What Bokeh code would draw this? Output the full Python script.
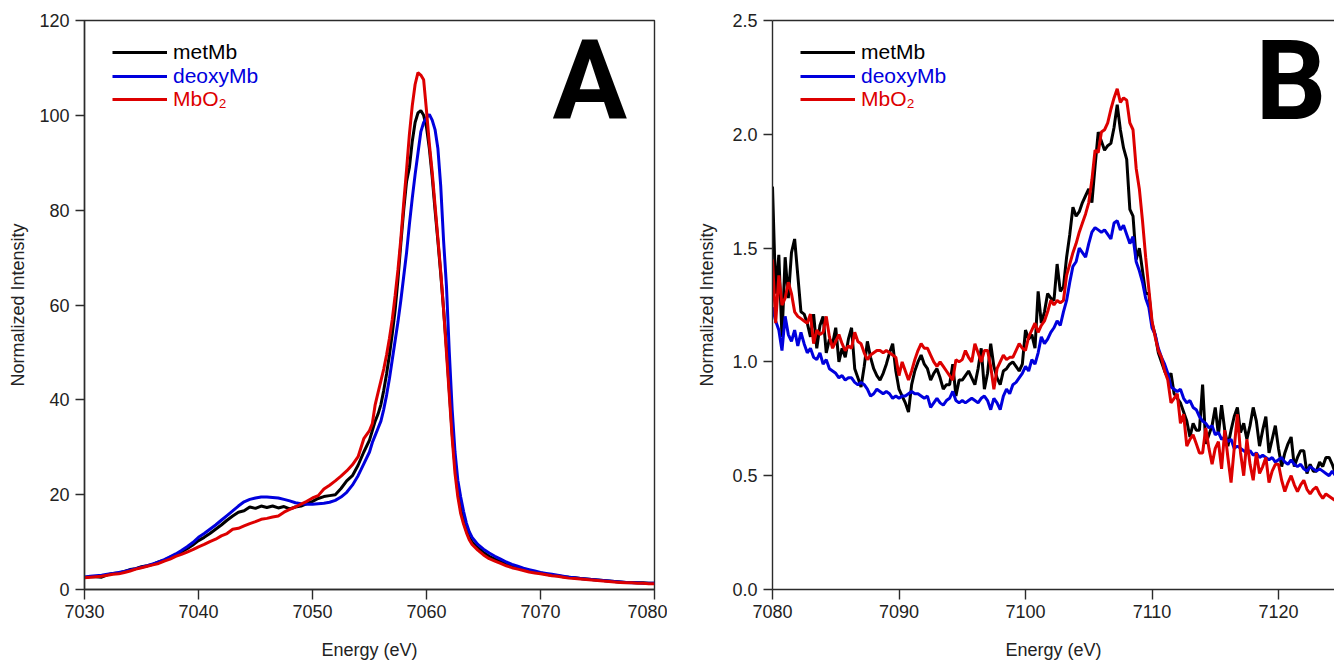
import numpy as np
from bokeh.plotting import figure
from bokeh.models import Range1d, FixedTicker, PrintfTickFormatter, Legend, LegendItem, Label, LinearAxis
from bokeh.layouts import row
from bokeh.embed import file_html
from bokeh.resources import INLINE

# ---------------- data: panel A (Fe K-beta mainline) ----------------
energy_a = np.concatenate([np.arange(7030, 7055, 0.5),
                           np.arange(7055, 7064.01, 0.25),
                           np.arange(7064.5, 7080.01, 0.5)])
metmb_a = [
    2.6, 2.7, 2.7, 2.6, 3.1, 3.4, 3.5, 3.8, 4.2, 4.4, 4.8, 5.0, 5.3, 5.8, 6.2, 6.8, 7.3, 7.9, 8.6, 9.4,
    10.3, 11.0, 11.8, 12.7, 13.6, 14.6, 15.5, 16.3, 16.6, 17.4, 17.1, 17.6, 17.3, 17.6, 17.2, 17.5, 17.0, 17.4, 17.6, 18.1,
    18.6, 19.2, 19.6, 19.8, 20.0, 21.3, 22.9, 24.0, 26.2, 29.0,
    31.5, 33.5, 35.5, 37.0, 39.0, 42.0, 45.5, 49.5, 54.0, 59.0, 65.5, 73.0, 80.0, 86.0, 89.0, 94.5, 98.5, 100.5,
    101.0, 100.0, 97.5, 93.0, 87.0, 80.0, 73.5, 66.5, 59.0, 51.0, 42.0, 33.0, 26.0, 20.5, 17.0, 14.5, 12.5, 11.0, 10.0,
    8.8, 7.8, 7.0, 6.4, 5.9, 5.4, 5.0, 4.6, 4.3, 4.0, 3.7, 3.5, 3.2, 3.0, 2.9, 2.7, 2.6, 2.5, 2.3, 2.2, 2.1, 2.0,
    1.9, 1.8, 1.7, 1.6, 1.5, 1.5, 1.4, 1.4, 1.3, 1.3]
deoxymb_a = [
    2.6, 2.8, 2.9, 3.0, 3.2, 3.4, 3.6, 3.8, 4.1, 4.4, 4.7, 5.0, 5.4, 5.8, 6.3, 6.9, 7.5, 8.2, 9.0, 9.9,
    11.0, 11.8, 12.7, 13.6, 14.6, 15.6, 16.6, 17.6, 18.5, 19.0, 19.3, 19.5, 19.5, 19.4, 19.3, 19.0, 18.7, 18.3, 18.1, 18.0,
    18.0, 18.1, 18.2, 18.4, 18.8, 19.5, 20.5, 22.0, 24.0, 26.5,
    29.0, 31.0, 32.5, 34.0, 35.5, 38.0, 41.0, 44.5, 48.5, 52.5, 56.5, 61.0, 66.0, 71.0, 77.0, 82.5, 87.5, 92.0,
    96.5, 98.5, 99.5, 100.2, 99.0, 97.0, 93.0, 85.0, 73.5, 64.0, 50.0, 38.0, 29.0, 23.0, 19.5, 16.5, 14.0, 12.2, 11.0,
    9.5, 8.5, 7.7, 7.0, 6.4, 5.8, 5.3, 4.9, 4.5, 4.2, 3.9, 3.6, 3.4, 3.2, 3.0, 2.8, 2.6, 2.5, 2.3, 2.2, 2.1, 2.0,
    1.9, 1.8, 1.7, 1.6, 1.5, 1.4, 1.4, 1.3, 1.3, 1.3]
mbo2_a = [
    2.5, 2.6, 2.7, 2.8, 3.0, 3.2, 3.3, 3.6, 3.9, 4.3, 4.6, 4.9, 5.2, 5.5, 6.0, 6.4, 7.0, 7.4, 7.9, 8.4,
    9.0, 9.5, 10.1, 10.6, 11.3, 11.8, 12.7, 12.9, 13.4, 13.9, 14.3, 14.8, 15.0, 15.3, 15.5, 16.3, 16.9, 17.4, 18.0, 18.6,
    19.3, 19.8, 21.2, 22.0, 22.9, 23.9, 25.0, 26.3, 28.0, 31.8,
    33.5, 35.0, 39.0, 41.5, 44.0, 46.5, 49.5, 53.0, 57.0, 62.0, 67.5, 74.0, 81.5, 88.5, 96.0, 102.0, 106.5, 109.0,
    108.5, 107.5, 101.0, 94.0, 88.0, 81.0, 74.0, 67.0, 59.0, 50.0, 41.0, 32.0, 24.5, 19.5, 16.0, 13.8, 12.0, 10.5, 9.5,
    8.3, 7.3, 6.5, 6.0, 5.5, 5.0, 4.6, 4.3, 4.0, 3.7, 3.5, 3.3, 3.1, 2.9, 2.8, 2.6, 2.4, 2.3, 2.2, 2.1, 2.0, 1.9,
    1.8, 1.7, 1.6, 1.5, 1.4, 1.4, 1.3, 1.3, 1.2, 1.2]

# ---------------- data: panel B (valence-to-core region) ----------------
energy_b = np.arange(7080, 7124.51, 0.25)
metmb_b = [
    1.77, 1.30, 1.47, 1.11, 1.46, 1.28, 1.48, 1.54, 1.38, 1.22, 1.21, 1.17, 1.11, 1.21, 1.06, 1.16,
    1.20, 1.04, 1.10, 1.08, 1.15, 1.00, 1.06, 1.02, 1.10, 1.15, 0.97, 0.93, 0.89, 0.98, 1.09, 1.02,
    0.97, 0.94, 0.92, 0.95, 0.99, 1.04, 1.08, 0.96, 0.88, 0.85, 0.82, 0.78, 0.90, 0.96, 1.00, 1.03,
    0.99, 0.97, 0.92, 0.95, 0.97, 0.93, 0.88, 0.90, 0.90, 0.99, 0.85, 0.92, 0.92, 0.94, 0.96, 0.93,
    0.90, 0.97, 1.06, 0.88, 0.95, 1.08, 0.98, 0.93, 0.90, 0.96, 0.97, 0.99, 1.00, 0.98, 0.96, 0.99,
    1.14, 1.10, 1.12, 1.06, 1.31, 1.17, 1.22, 1.30, 1.28, 1.27, 1.43, 1.31, 1.33, 1.46, 1.56, 1.68,
    1.64, 1.66, 1.70, 1.73, 1.76, 1.70, 1.86, 2.01, 1.97, 1.93, 1.95, 1.96, 2.03, 2.13, 2.02, 1.94,
    1.89, 1.67, 1.64, 1.45, 1.50, 1.40, 1.30, 1.30, 1.17, 1.12, 1.04, 1.00, 0.96, 0.93, 0.95, 0.86,
    0.84, 0.82, 0.78, 0.74, 0.67, 0.73, 0.70, 0.70, 0.90, 0.64, 0.68, 0.72, 0.80, 0.68, 0.81, 0.70,
    0.63, 0.70, 0.76, 0.80, 0.69, 0.73, 0.66, 0.72, 0.80, 0.74, 0.63, 0.70, 0.76, 0.60, 0.66, 0.72,
    0.62, 0.54, 0.60, 0.64, 0.67, 0.54, 0.58, 0.61, 0.61, 0.51, 0.55, 0.52, 0.52, 0.56, 0.54, 0.58,
    0.58, 0.55, 0.51]
deoxymb_b = [
    1.24, 1.18, 1.14, 1.05, 1.20, 1.12, 1.09, 1.14, 1.07, 1.13, 1.08, 1.04, 1.06, 1.02, 1.01, 1.04,
    0.99, 1.01, 0.97, 0.96, 0.95, 0.93, 0.94, 0.92, 0.93, 0.93, 0.91, 0.90, 0.91, 0.90, 0.88, 0.85,
    0.86, 0.88, 0.87, 0.86, 0.87, 0.86, 0.84, 0.85, 0.84, 0.85, 0.85, 0.86, 0.87, 0.86, 0.86, 0.85,
    0.84, 0.85, 0.80, 0.82, 0.84, 0.82, 0.81, 0.83, 0.84, 0.87, 0.83, 0.82, 0.83, 0.82, 0.83, 0.84,
    0.83, 0.82, 0.84, 0.85, 0.83, 0.79, 0.84, 0.82, 0.79, 0.85, 0.88, 0.86, 0.90, 0.91, 0.93, 0.95,
    0.98, 0.96, 1.01, 0.99, 1.04, 1.11, 1.08, 1.10, 1.13, 1.15, 1.18, 1.16, 1.22, 1.27, 1.35, 1.42,
    1.44, 1.50, 1.48, 1.46, 1.52, 1.57, 1.59, 1.58, 1.57, 1.58, 1.56, 1.54, 1.61, 1.62, 1.58, 1.60,
    1.56, 1.52, 1.55, 1.44, 1.40, 1.35, 1.28, 1.24, 1.15, 1.12, 1.06, 1.02, 0.99, 0.95, 0.89, 0.88,
    0.87, 0.88, 0.84, 0.82, 0.83, 0.80, 0.79, 0.76, 0.74, 0.73, 0.71, 0.72, 0.68, 0.69, 0.66, 0.67,
    0.65, 0.66, 0.62, 0.63, 0.62, 0.61, 0.60, 0.61, 0.59, 0.60, 0.58, 0.59, 0.58, 0.57, 0.58, 0.56,
    0.57, 0.58, 0.56, 0.55, 0.57, 0.55, 0.54, 0.55, 0.53, 0.52, 0.54, 0.53, 0.52, 0.53, 0.52, 0.51,
    0.50, 0.52, 0.50]
mbo2_b = [
    1.45, 1.17, 1.38, 1.25, 1.28, 1.35, 1.30, 1.22, 1.20, 1.19, 1.18, 1.17, 1.21, 1.08, 1.14, 1.12,
    1.13, 1.20, 1.11, 1.06, 1.09, 1.12, 1.08, 1.05, 1.07, 1.06, 1.13, 1.09, 1.08, 1.04, 1.01, 1.03,
    1.04, 1.05, 1.05, 1.04, 1.05, 1.04, 1.03, 1.02, 0.94, 1.00, 0.96, 0.92, 0.96, 1.01, 1.05, 1.08,
    1.06, 1.06, 1.03, 1.00, 0.98, 1.00, 0.98, 0.96, 0.94, 0.92, 1.01, 1.00, 1.01, 1.05, 1.02, 1.00,
    1.08, 1.04, 1.00, 1.05, 1.05, 0.98, 0.88, 0.97, 1.00, 1.03, 1.01, 1.02, 1.02, 1.05, 1.08, 1.06,
    1.05, 1.11, 1.14, 1.17, 1.13, 1.16, 1.18, 1.22, 1.27, 1.25, 1.27, 1.26, 1.27, 1.38, 1.43, 1.48,
    1.52, 1.57, 1.61, 1.65, 1.70, 1.80, 1.93, 1.92, 2.01, 2.02, 2.05, 2.11, 2.16, 2.20, 2.14, 2.16,
    2.15, 2.05, 2.02, 1.85, 1.76, 1.62, 1.46, 1.32, 1.18, 1.11, 1.05, 1.02, 0.96, 0.92, 0.82, 0.84,
    0.86, 0.73, 0.77, 0.63, 0.66, 0.68, 0.64, 0.60, 0.60, 0.71, 0.62, 0.55, 0.62, 0.65, 0.53, 0.70,
    0.58, 0.47, 0.62, 0.77, 0.60, 0.50, 0.66, 0.55, 0.48, 0.60, 0.51, 0.54, 0.58, 0.47, 0.52, 0.55,
    0.55, 0.48, 0.43, 0.47, 0.50, 0.46, 0.43, 0.46, 0.48, 0.44, 0.42, 0.44, 0.45, 0.42, 0.40, 0.42,
    0.41, 0.40, 0.39]

series_names = ["metMb", "deoxyMb", "MbO\u2082"]
series_colors = ["#000000", "#0000dd", "#dd0000"]

FONT = "Liberation Sans"
AX = "#2b2b2b"


def style(p, xticks, yticks, yfmt, ylab_standoff):
    p.xgrid.visible = False
    p.ygrid.visible = False
    p.background_fill_color = "white"
    p.border_fill_color = "white"
    for ax in (p.xaxis[0], p.yaxis[0]):
        ax.axis_line_color = AX
        ax.axis_line_width = 1.4
        ax.major_tick_line_color = AX
        ax.major_tick_line_width = 1.4
        ax.major_tick_in = 0
        ax.major_tick_out = 9
        ax.minor_tick_line_color = None
        ax.major_label_text_font = FONT
        ax.major_label_text_font_size = "18px"
        ax.major_label_text_color = "#222222"
        ax.axis_label_text_font = FONT
        ax.axis_label_text_font_size = "18px"
        ax.axis_label_text_font_style = "normal"
        ax.axis_label_text_color = "#222222"
    p.xaxis[0].ticker = FixedTicker(ticks=xticks)
    p.yaxis[0].ticker = FixedTicker(ticks=yticks)
    p.xaxis[0].major_tick_out = 10
    p.xaxis[0].major_label_standoff = 5
    p.yaxis[0].major_label_standoff = 6
    p.xaxis[0].axis_label = "Energy (eV)"
    p.yaxis[0].axis_label = "Normalized Intensity"
    p.xaxis[0].axis_label_standoff = 19
    p.yaxis[0].axis_label_standoff = ylab_standoff
    if yfmt:
        p.yaxis[0].formatter = PrintfTickFormatter(format=yfmt)


def add_lines_and_legend(p, x, ys, letter, letter_x):
    rends = []
    for y, c in zip(ys, series_colors):
        rends.append(p.line(x, y, line_color=c, line_width=3))
    # legend: one entry per Legend so each label takes its series colour
    for i, (name, c, r) in enumerate(zip(series_names, series_colors, rends)):
        leg = Legend(items=[LegendItem(label=name, renderers=[r])],
                     location=(28, 525 - 23.5 * i),
                     label_text_color=c, label_text_font=FONT, label_text_font_size="21px",
                     glyph_width=55, glyph_height=22, label_height=22, label_standoff=6,
                     padding=0, margin=0, spacing=0,
                     border_line_alpha=0, background_fill_alpha=0)
        p.add_layout(leg)
    p.add_layout(Label(x=letter_x, y=509, x_units="screen", y_units="screen", text=letter,
                       text_font="Roboto", text_font_size="111px", text_font_style="bold",
                       text_color="black", text_baseline="alphabetic", text_align="left"))


# ---------------- panel A ----------------
pa = figure(width=667, height=663, output_backend="svg", toolbar_location=None,
            x_range=Range1d(7030, 7080), y_range=Range1d(0, 120),
            min_border_left=84, min_border_right=13, min_border_top=20, min_border_bottom=74)
pa.outline_line_color = AX
pa.outline_line_width = 1.4
style(pa, [7030, 7040, 7050, 7060, 7070, 7080], [0, 20, 40, 60, 80, 100, 120], None, 8)
add_lines_and_legend(pa, energy_a, [metmb_a, deoxymb_a, mbo2_a], "A", 468)

# ---------------- panel B ----------------
pb = figure(width=667, height=663, output_backend="svg", toolbar_location=None,
            x_range=Range1d(7080, 7080 + 562 / 12.65), y_range=Range1d(0, 2.5),
            min_border_left=105, min_border_right=0, min_border_top=20, min_border_bottom=74)
pb.outline_line_color = None
style(pb, [7080, 7090, 7100, 7110, 7120], [0.0, 0.5, 1.0, 1.5, 2.0, 2.5], "%.1f", 12)
top = LinearAxis(ticker=FixedTicker(ticks=[]), axis_line_color=AX, axis_line_width=1.4,
                 major_label_text_font_size="0px", major_tick_line_color=None,
                 minor_tick_line_color=None)
pb.add_layout(top, "above")
add_lines_and_legend(pb, energy_b, [metmb_b, deoxymb_b, mbo2_b], "B", 483)

layout = row(pa, pb)
open("out.html", "w").write(file_html(layout, INLINE))
